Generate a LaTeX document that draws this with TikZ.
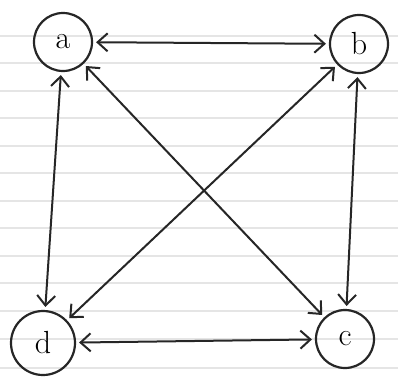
\documentclass[tikz,border=0pt]{standalone}
\usetikzlibrary{arrows.meta}
\begin{document}
\begin{tikzpicture}[x=1pt,y=-1pt,
  vert/.style={circle,draw=black!85,line width=2.2pt,minimum size=58pt,inner sep=0pt,font=\fontsize{32}{32}\selectfont},
  link/.style={draw=black!85,line width=2pt,{Straight Barb[length=10pt,width=18pt]}-{Straight Barb[length=10pt,width=18pt]},shorten <=3pt,shorten >=3pt},
  rule/.style={draw=black!10,line width=1.2pt}]
\useasboundingbox (0,0) rectangle (398,383);
\fill[white] (0,0) rectangle (398,383);
\foreach \yy in {36,63,91,118,146,173,201,228,256,283,311,339,368}
  \draw[rule] (0,\yy) -- (398,\yy);
\node[vert] (a) at (63,42) {a};
\node[vert] (b) at (359,44) {b};
\node[vert] (c) at (345,339) {c};
\node[vert, minimum size=64pt] (d) at (43,343) {d};
\draw[link] (a) -- (b);
\draw[link] (a) -- (d);
\draw[link] (a) -- (c);
\draw[link] (b) -- (d);
\draw[link] (b) -- (c);
\draw[link] (d) -- (c);
\end{tikzpicture}
\end{document}
